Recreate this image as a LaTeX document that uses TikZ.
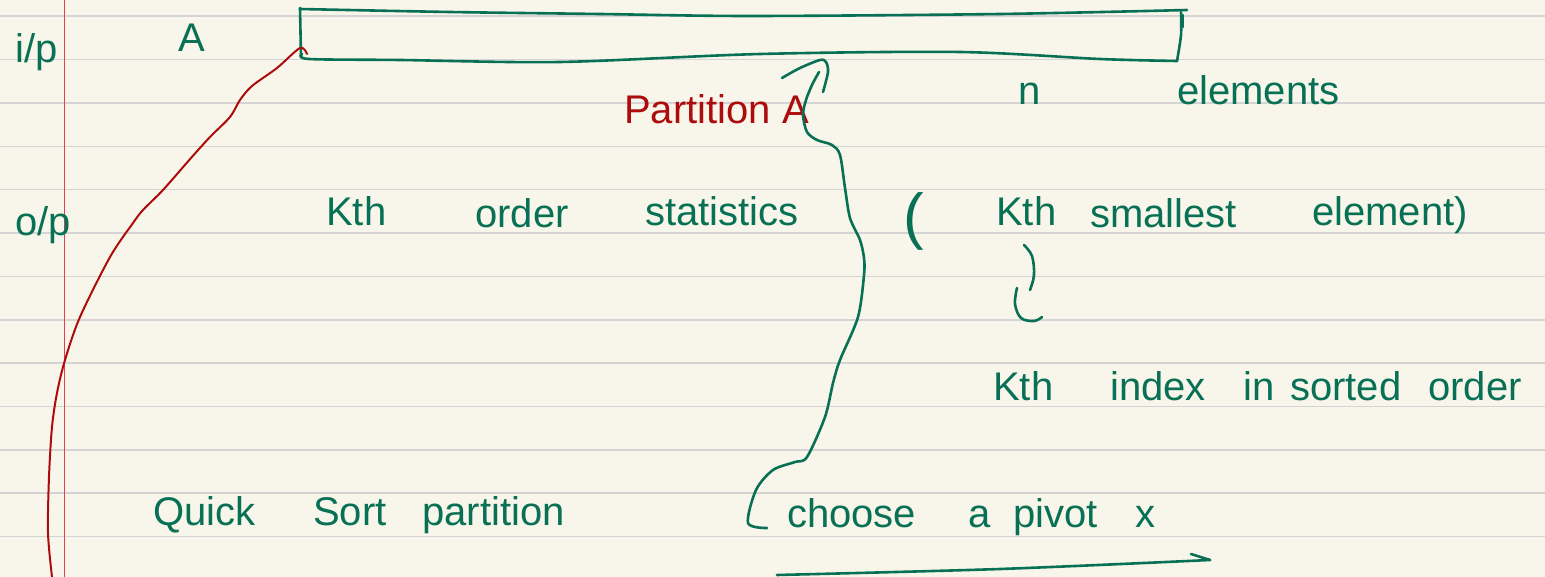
\documentclass[tikz,border=0pt]{standalone}
\usepackage{fontspec}
\setmainfont{Liberation Sans}
\definecolor{paper}{RGB}{248,246,234}
\definecolor{rule}{RGB}{212,212,212}
\definecolor{margin}{RGB}{232,60,80}
\definecolor{ink}{RGB}{8,112,84}
\definecolor{redink}{RGB}{172,12,12}
\tikzset{
  hw/.style={font=\fontsize{40}{40}\selectfont, text=ink, anchor=base west, inner sep=0pt},
  hwred/.style={hw, text=redink},
  hwbig/.style={hw, font=\fontsize{62}{62}\selectfont},
  pen/.style={draw=ink, line width=2.6pt, line cap=round, line join=round},
  redpen/.style={draw=redink, line width=2pt, line cap=round, line join=round},
}
\begin{document}
\begin{tikzpicture}[x=1pt,y=-1pt]
\useasboundingbox (0,0) rectangle (1545,577);
\fill[paper] (0,0) rectangle (1545,577);
% ruled lines
\foreach \k in {0,...,12}{
  \draw[rule, line width=1.6pt] (0,{16.3+43.35*\k}) -- (1545,{16.3+43.35*\k});
}
% margin line
\draw[margin, line width=1pt] (64,0) -- (64,577);

% array box (hand drawn)
\draw[pen] (300,8) -- (301,57);
\draw[pen] plot[smooth, tension=0.5] coordinates {(300,9) (450,12) (600,14) (750,16) (1000,14) (1187,10)};
\draw[pen] plot[smooth, tension=0.5] coordinates {(1181,12) (1181,35) (1177,61)};
\draw[pen] (1183,15) -- (1183,27);
\draw[pen] plot[smooth, tension=0.5] coordinates {(302,54) (309,59) (400,60) (560,62) (760,54) (960,52) (1100,59) (1177,61)};
\coordinate (boxleft) at (300,48);
\coordinate (redend) at (52,577);

% texts
\node[hw] (ip) at (15,63) {i/p};
\node[hw] (A) at (178,52) {A};
\node[hwred] (partA) at (624,124) {Partition A};
\node[hw] (n) at (1018,105) {n};
\node[hw] (elements) at (1177,105) {elements};

\node[hw] (op) at (15,236) {o/p};
\node[hw] (kth1) at (326,226) {Kth};
\node[hw] (order1) at (475,228) {order};
\node[hw] (stats) at (645,226) {statistics};
\node[hwbig] (lpar) at (903,238) {(};
\node[hw] (kth2) at (996,226) {Kth};
\node[hw] (smallest) at (1090,228) {smallest};
\node[hw] (element) at (1312,226) {element)};

\node[hw] (kth3) at (993,400) {Kth};
\node[hw] (index) at (1110,400) {index};
\node[hw] (in) at (1243,400) {in};
\node[hw] (sorted) at (1290,400) {sorted};
\node[hw] (order2) at (1428,400) {order};

\node[hw] (quick) at (153,525) {Quick};
\node[hw] (sort) at (313,525) {Sort};
\node[hw] (partition) at (422,525) {partition};

\node[hw] (choose) at (787,527) {choose};
\node[hw] (a) at (968,527) {a};
\node[hw] (pivot) at (1013,527) {pivot};
\node[hw] (x) at (1135,527) {x};

% red connector from array box down the page
\draw[redpen] plot[smooth, tension=0.5] coordinates {(307,54) (boxleft) (277,68) (252,86) (240,100) (230,117) (210,137) (191,158) (163,190) (143,210) (133,223) (110,257) (80,317) (65,360) (57,393) (52,427) (49,477) (48,533) (redend)};

% green connector from Partition A down to (choose a pivot
\coordinate (gtop) at (819,72);
\coordinate (gend) at (767,528);
\draw[pen] plot[smooth, tension=0.5] coordinates {(gtop) (812,85) (806,100) (803,115) (807,132) (817,140) (832,145) (840,155) (845,188) (850,218) (860,240) (864,258) (864,275) (858,317) (840,360) (833,383) (825,417) (807,457) (795,462) (773,470) (756,490) (748,523) (gend)};
\draw[pen] plot[smooth, tension=0.5] coordinates {(782,78) (800,68) (820,60) (826,62) (828,72) (823,92)};

% small curly arrow under Kth
\coordinate (cstart) at (1024,245);
\draw[pen] plot[smooth, tension=0.6] coordinates {(cstart) (1032,256) (1034,275) (1030,290)};
\draw[pen] plot[smooth, tension=0.6] coordinates {(1017,288) (1015,304) (1021,318) (1034,321) (1042,317)};

% underline arrow at the bottom
\coordinate (ulstart) at (777,575);
\coordinate (ulend) at (1210,560);
\draw[pen] plot[smooth, tension=0.5] coordinates {(ulstart) (1000,569) (ulend)};
\draw[pen] (1191,554) -- (ulend);
\end{tikzpicture}
\end{document}
